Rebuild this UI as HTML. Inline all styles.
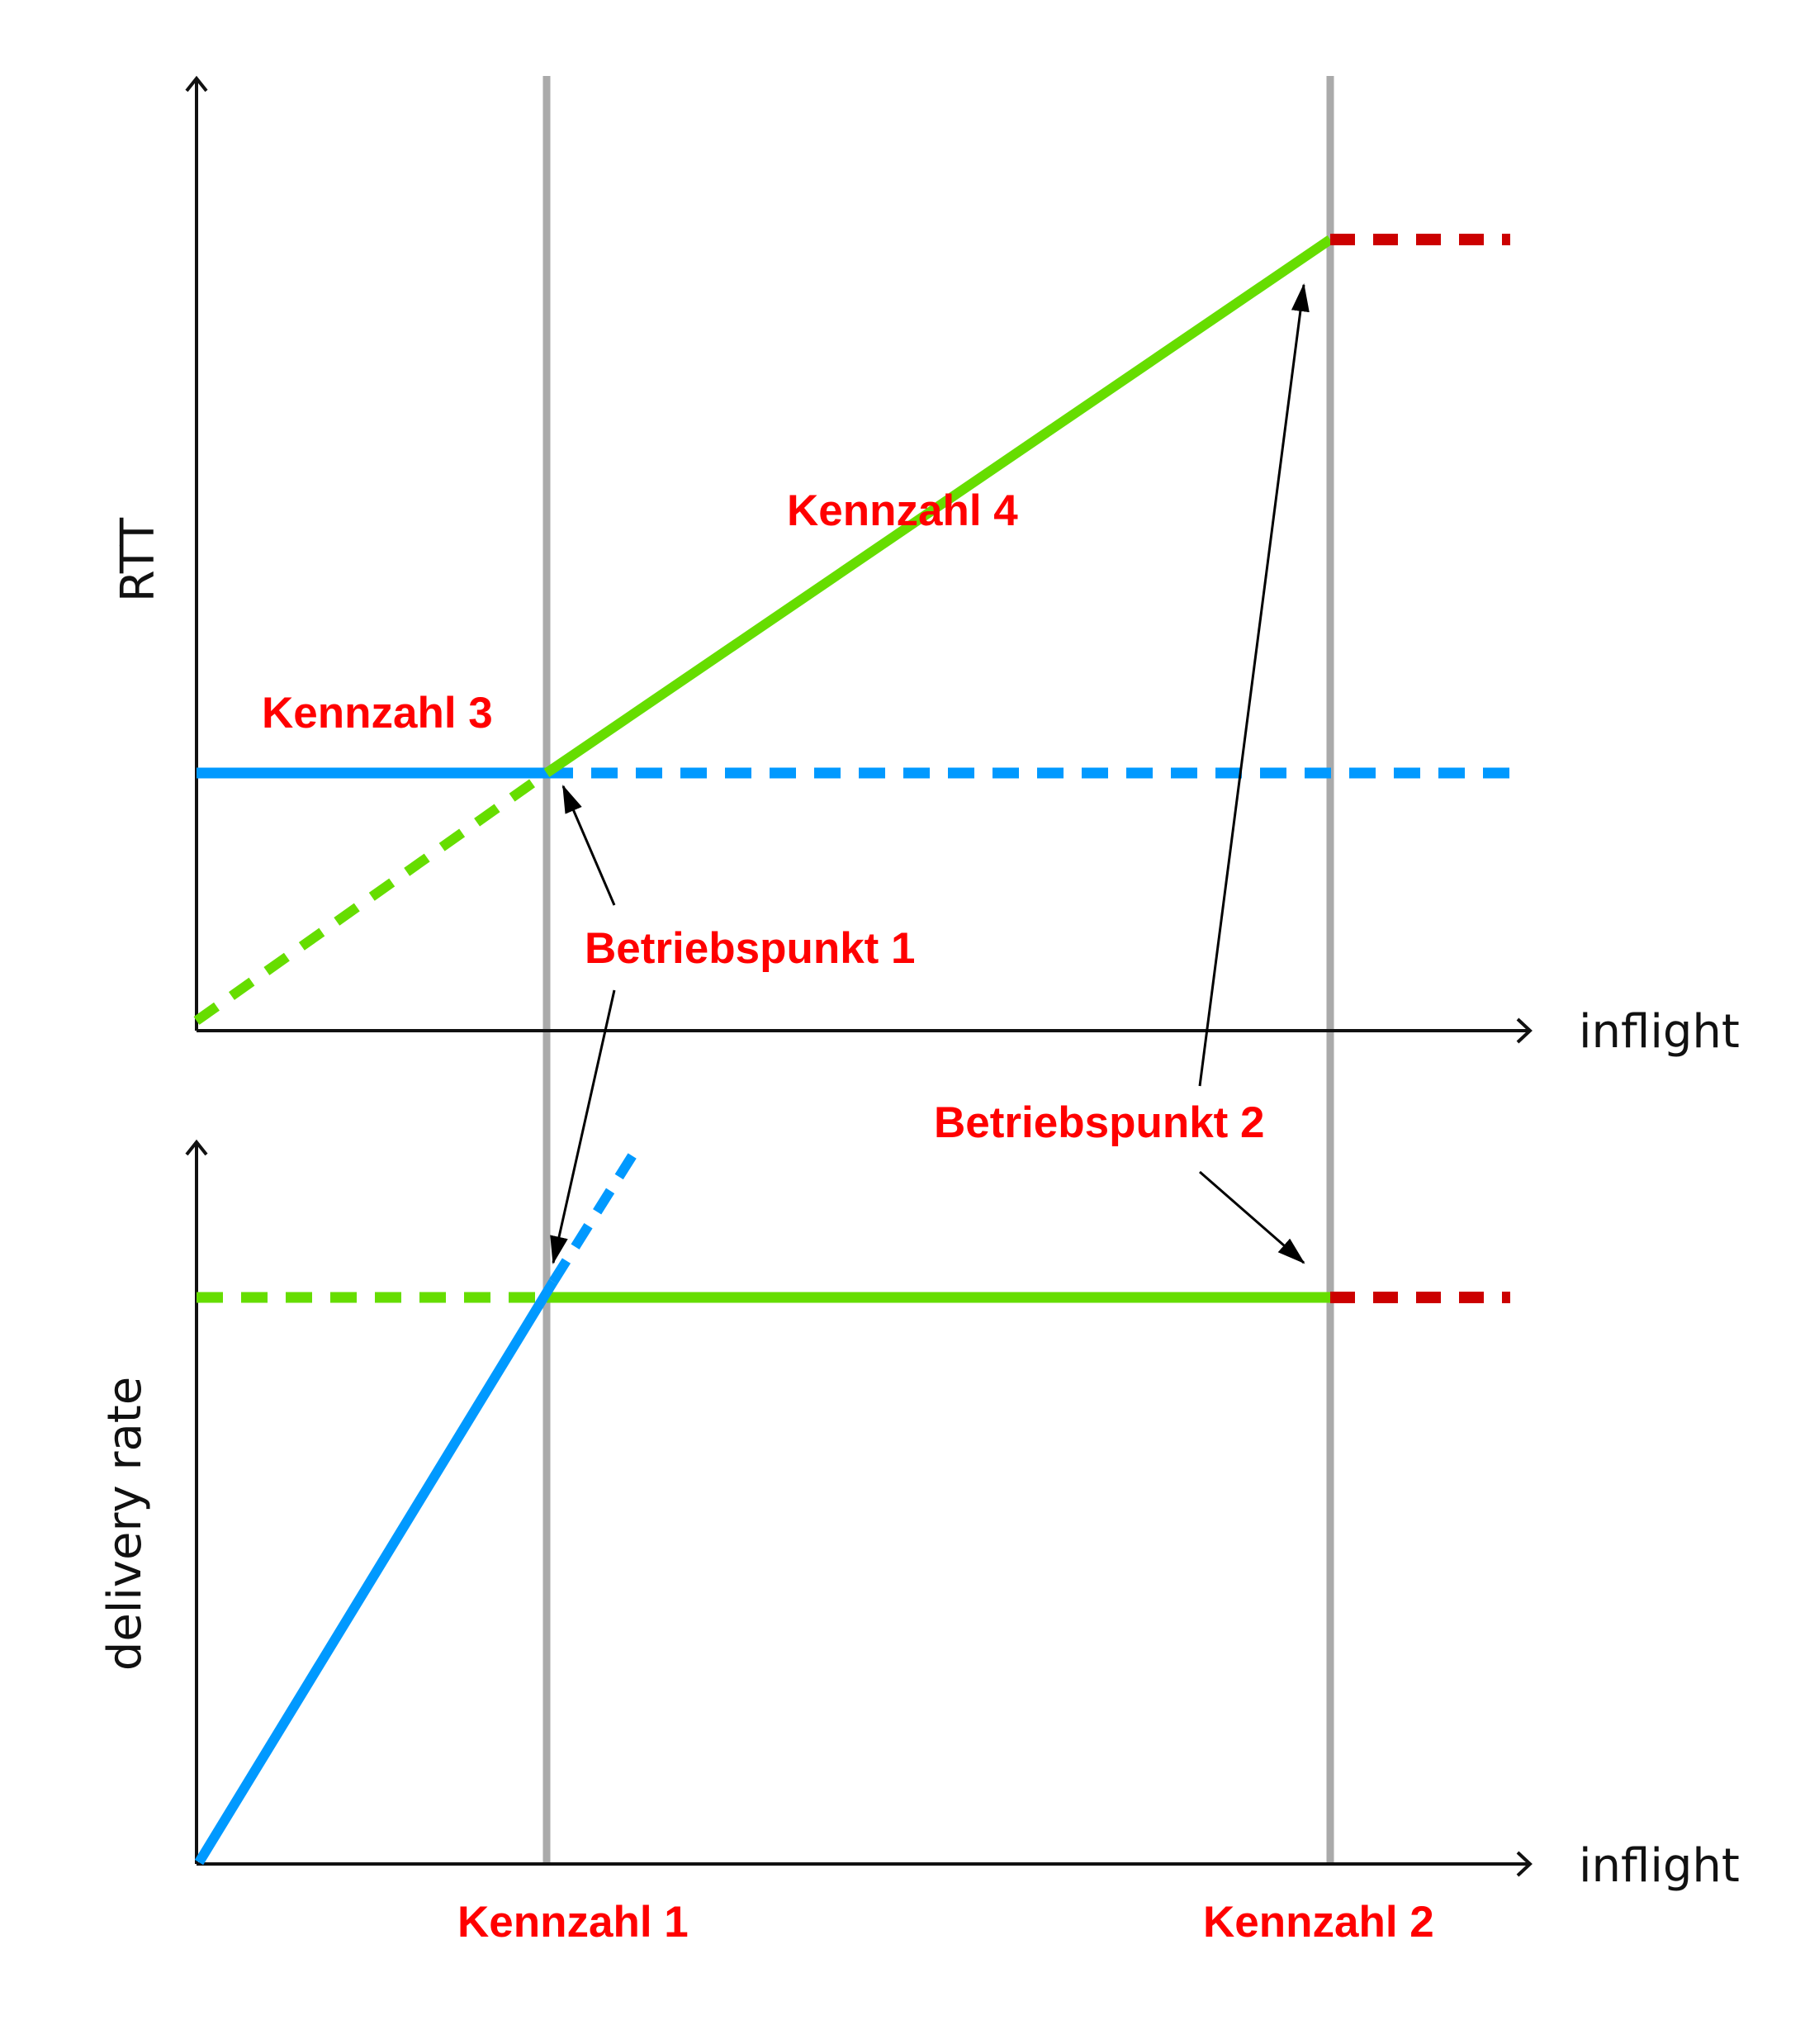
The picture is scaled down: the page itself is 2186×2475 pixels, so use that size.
<!DOCTYPE html>
<html><head><meta charset="utf-8"><style>
html,body{margin:0;padding:0;background:#fff;}
svg{display:block;}
.lab{font-family:"Liberation Sans",sans-serif;font-weight:bold;fill:#f00;font-size:53px;}
.ax{font-family:"DejaVu Sans","Liberation Sans",sans-serif;fill:#111;font-size:56px;}
</style></head><body>
<svg width="2186" height="2475" viewBox="0 0 2186 2475" xmlns="http://www.w3.org/2000/svg">
<defs>
<marker id="ah" markerWidth="34" markerHeight="22" refX="32" refY="11" orient="auto" markerUnits="userSpaceOnUse" viewBox="0 0 34 22">
<path d="M0,0 L34,11 L0,22 z" fill="#000"/></marker>
</defs>
<line x1="662" y1="92" x2="662" y2="2257" stroke="#aaa" stroke-width="9"/>
<line x1="1611" y1="92" x2="1611" y2="2257" stroke="#aaa" stroke-width="9"/>
<g stroke="#111" stroke-width="4" fill="none">
<line x1="238" y1="95" x2="238" y2="1248"/>
<line x1="238" y1="1248" x2="1853" y2="1248"/>
<polyline points="226,110 238,95 250,110"/>
<polyline points="1838,1234 1853,1248 1838,1262"/>
<line x1="238" y1="1383" x2="238" y2="2257"/>
<line x1="238" y1="2257" x2="1853" y2="2257"/>
<polyline points="226,1398 238,1383 250,1398"/>
<polyline points="1838,2243 1853,2257 1838,2271"/>
</g>
<line x1="238" y1="1236" x2="662" y2="936" stroke="#66dd00" stroke-width="12" stroke-dasharray="30,22"/>
<line x1="238" y1="936" x2="662" y2="936" stroke="#0099ff" stroke-width="13"/>
<line x1="662" y1="936" x2="1829" y2="936" stroke="#0099ff" stroke-width="13" stroke-dasharray="32,22"/>
<line x1="662" y1="936" x2="1611" y2="290" stroke="#66dd00" stroke-width="12"/>
<line x1="1611" y1="290" x2="1829" y2="290" stroke="#cc0000" stroke-width="14" stroke-dasharray="30,22"/>
<line x1="238" y1="1571" x2="662" y2="1571" stroke="#66dd00" stroke-width="13" stroke-dasharray="32,22"/>
<line x1="662" y1="1571" x2="1611" y2="1571" stroke="#66dd00" stroke-width="13"/>
<line x1="1611" y1="1571" x2="1829" y2="1571" stroke="#cc0000" stroke-width="14" stroke-dasharray="30,22"/>
<line x1="241" y1="2255" x2="670" y2="1552" stroke="#0099ff" stroke-width="12"/>
<line x1="670" y1="1552" x2="771" y2="1391" stroke="#0099ff" stroke-width="12" stroke-dasharray="30,20"/>
<g stroke="#000" stroke-width="3" marker-end="url(#ah)">
<line x1="744" y1="1096" x2="682" y2="952"/>
<line x1="744" y1="1199" x2="670" y2="1529"/>
<line x1="1453" y1="1315" x2="1579" y2="345"/>
<line x1="1453" y1="1419" x2="1579" y2="1529"/>
</g>
<text class="lab" x="953" y="636">Kennzahl 4</text>
<text class="lab" x="317" y="881">Kennzahl 3</text>
<text class="lab" x="708" y="1166">Betriebspunkt 1</text>
<text class="lab" x="1131" y="1377">Betriebspunkt 2</text>
<text class="lab" x="554" y="2345">Kennzahl 1</text>
<text class="lab" x="1457" y="2345">Kennzahl 2</text>
<text class="ax" transform="translate(186,678) rotate(-90)" text-anchor="middle">RTT</text>
<text class="ax" transform="translate(170,1845) rotate(-90)" text-anchor="middle">delivery rate</text>
<text class="ax" x="1912" y="1268">inflight</text>
<text class="ax" x="1912" y="2278">inflight</text>
</svg>
</body></html>
